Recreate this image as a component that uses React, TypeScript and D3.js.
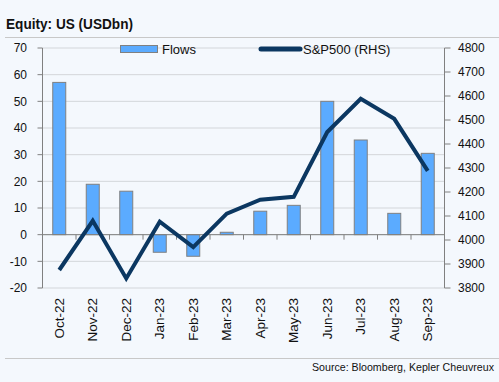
import React from "react";
import * as d3 from "d3";

const categories = ["Oct-22","Nov-22","Dec-22","Jan-23","Feb-23","Mar-23","Apr-23","May-23","Jun-23","Jul-23","Aug-23","Sep-23"];
const flows = [57.1, 18.9, 16.3, -6.6, -8.1, 0.9, 8.8, 11.0, 50.0, 35.5, 8.0, 30.5];
const sp500 = [3875, 4080, 3840, 4076, 3970, 4110, 4168, 4180, 4450, 4588, 4505, 4288];
const leftTicks = [-20, -10, 0, 10, 20, 30, 40, 50, 60, 70];
const rightTicks = [3800, 3900, 4000, 4100, 4200, 4300, 4400, 4500, 4600, 4700, 4800];

const W = 499, H = 382;
const L = 42.5, R = 444.5, T = 48, B = 288;
const font = "'Liberation Sans', Arial, sans-serif";

export default function App() {
  const x = d3.scaleBand().domain(categories).range([L, R]);
  const yL = d3.scaleLinear().domain([-20, 70]).range([B, T]);
  const yR = d3.scaleLinear().domain([3800, 4800]).range([B, T]);
  const bw = 13;
  const line = d3.line<number>().x((_, i) => x(categories[i])! + x.bandwidth() / 2).y(d => yR(d));
  const y0 = yL(0);
  return (
    <svg width={W} height={H} style={{ position: "absolute", left: 0, top: 0 }}>
      <rect x={0} y={0} width={W} height={H} fill="#F4F8FD" />
      <text x={6} y={29} fontFamily={font} fontWeight="bold" fontSize={14} fill="#111" textLength={127} lengthAdjust="spacingAndGlyphs">Equity: US (USDbn)</text>
      <line x1={5} x2={W} y1={37.5} y2={37.5} stroke="#C8C8C8" />
      <line x1={5} x2={W} y1={358.5} y2={358.5} stroke="#C8C8C8" />
      {leftTicks.map(t => (
        <line key={t} x1={L} x2={R} y1={yL(t)} y2={yL(t)} stroke="#D3D6DA" strokeWidth={1} />
      ))}
      {flows.map((v, i) => (
        <rect key={i} x={x(categories[i])! + x.bandwidth() / 2 - bw / 2} y={Math.min(yL(v), y0)} width={bw}
          height={Math.abs(yL(v) - y0)} fill="#5BABFF" stroke="#808080" strokeWidth={1} />
      ))}
      <line x1={L} x2={L} y1={T} y2={B} stroke="#808080" />
      {leftTicks.map(t => (
        <g key={t}>
          <line x1={L - 5} x2={L} y1={yL(t)} y2={yL(t)} stroke="#808080" />
          <text x={27} y={yL(t)} dy="0.35em" textAnchor="end" fontFamily={font} fontSize={12} fill="#111">{t}</text>
        </g>
      ))}
      <line x1={R} x2={R} y1={T} y2={B} stroke="#808080" />
      {rightTicks.map(t => (
        <g key={t}>
          <line x1={R} x2={R + 6} y1={yR(t)} y2={yR(t)} stroke="#808080" />
          <text x={458} y={yR(t)} dy="0.35em" textAnchor="start" fontFamily={font} fontSize={12} fill="#111">{t}</text>
        </g>
      ))}
      <line x1={L} x2={R} y1={y0} y2={y0} stroke="#808080" />
      {categories.map(c => (
        <line key={c} x1={x(c)!} x2={x(c)!} y1={y0} y2={y0 + 5} stroke="#808080" />
      ))}
      <line x1={R} x2={R} y1={y0} y2={y0 + 5} stroke="#808080" />
      {categories.map(c => (
        <text key={c} transform={`translate(${x(c)! + x.bandwidth() / 2},${B + 10}) rotate(-90)`} dy="0.35em"
          textAnchor="end" fontFamily={font} fontSize={13.5} fill="#111">{c}</text>
      ))}
      <path d={line(sp500)!} fill="none" stroke="#0B3761" strokeWidth={4} strokeLinejoin="miter" />
      <rect x={120.5} y={45.5} width={37} height={7} fill="#5BABFF" stroke="#808080" />
      <text x={162} y={49} dy="0.35em" fontFamily={font} fontSize={13} fill="#111">Flows</text>
      <line x1={261} x2={300} y1={49} y2={49} stroke="#0B3761" strokeWidth={5} strokeLinecap="round" />
      <text x={303} y={49} dy="0.35em" fontFamily={font} fontSize={13} fill="#111">S&amp;P500 (RHS)</text>
      <text x={312} y={371} fontFamily={font} fontSize={10.5} fill="#111" textLength={182} lengthAdjust="spacingAndGlyphs">Source: Bloomberg, Kepler Cheuvreux</text>
    </svg>
  );
}
